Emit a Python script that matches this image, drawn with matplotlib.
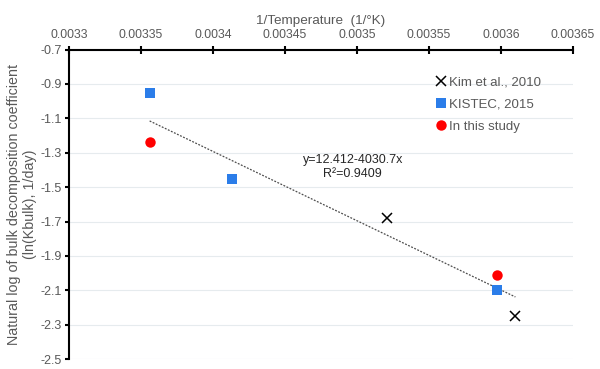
import matplotlib
import matplotlib.pyplot as plt
import numpy as np

# Data (x = 1/T in 1/K, y = ln(Kbulk))
kim_x = [0.003521, 0.003610]
kim_y = [-1.68, -2.25]
kistec_x = [0.003356, 0.003413, 0.003597]
kistec_y = [-0.95, -1.45, -2.10]
study_x = [0.003356, 0.003597]
study_y = [-1.24, -2.01]

# Trendline coefficients as printed on the chart
fit_a = 12.412
fit_b = -4030.7
fit_range = [0.003356, 0.003610]

xticks = [0.0033, 0.00335, 0.0034, 0.00345, 0.0035, 0.00355, 0.0036, 0.00365]
xticklabels = ['0.0033', '0.00335', '0.0034', '0.00345', '0.0035', '0.00355', '0.0036', '0.00365']
yticks = [-2.5, -2.3, -2.1, -1.9, -1.7, -1.5, -1.3, -1.1, -0.9, -0.7]

matplotlib.rc('font', family='Liberation Sans', size=9)
text_color = '#595959'

fig = plt.figure(figsize=(6, 3.69), dpi=100)
ax = fig.add_axes([0.115, 0.027, 0.84, 0.8386])

ax.set_xlim(0.0033, 0.00365)
ax.set_ylim(-2.5, -0.7)
ax.set_xticks(xticks)
ax.set_xticklabels(xticklabels)
ax.set_yticks(yticks)
ax.set_yticklabels(['{:.1f}'.format(v) for v in yticks])

# x axis sits on top, at y = -0.7
ax.xaxis.tick_top()
ax.xaxis.set_label_position('top')
ax.spines['bottom'].set_visible(False)
ax.spines['right'].set_visible(False)
ax.spines['top'].set_linewidth(1.5)
ax.spines['left'].set_linewidth(1.5)
ax.tick_params(axis='x', direction='inout', length=6, width=1.5, colors='black',
               labelcolor=text_color, labelsize=8.8, pad=3)
ax.tick_params(axis='y', direction='out', length=3, width=1.5, colors='black',
               labelcolor=text_color, labelsize=9, pad=2)

ax.grid(axis='y', color='#e6ebee', linewidth=0.8)
ax.set_axisbelow(True)

ax.set_xlabel('1/Temperature  (1/°K)', color=text_color, fontsize=9.7, labelpad=4)
ax.set_ylabel('Natural log of bulk decomposition coefficient\n(ln(Kbulk), 1/day)',
              color=text_color, fontsize=10.3, labelpad=3, linespacing=1.1)

# Trendline
fx = np.array(fit_range)
ax.plot(fx, fit_a + fit_b * fx, linestyle=(0, (1.5, 1.2)), color='#4d4d4d',
        linewidth=0.9, zorder=2)

ax.plot(kim_x, kim_y, linestyle='none', marker='x', color='black',
        markersize=6.5, markeredgewidth=1.1, label='Kim et al., 2010', zorder=3)
ax.plot(kistec_x, kistec_y, linestyle='none', marker='s', color='#2b7de9',
        markersize=7, markeredgewidth=0, label='KISTEC, 2015', zorder=3)
ax.plot(study_x, study_y, linestyle='none', marker='o', color='#ff0000',
        markersize=7.5, markeredgewidth=0, label='In this study', zorder=3)

ax.text(0.003497, -1.384, 'y=12.412-4030.7x\nR²=0.9409', ha='center', va='center',
        fontsize=9, color='#262626', linespacing=1.25)

leg = ax.legend(loc='upper left', bbox_to_anchor=(0.72, 0.93), frameon=False,
                handlelength=0.6, handletextpad=0.3, labelspacing=0.75,
                fontsize=9.5, borderaxespad=0)
for t in leg.get_texts():
    t.set_color(text_color)

fig.savefig('out.png', dpi=100)
